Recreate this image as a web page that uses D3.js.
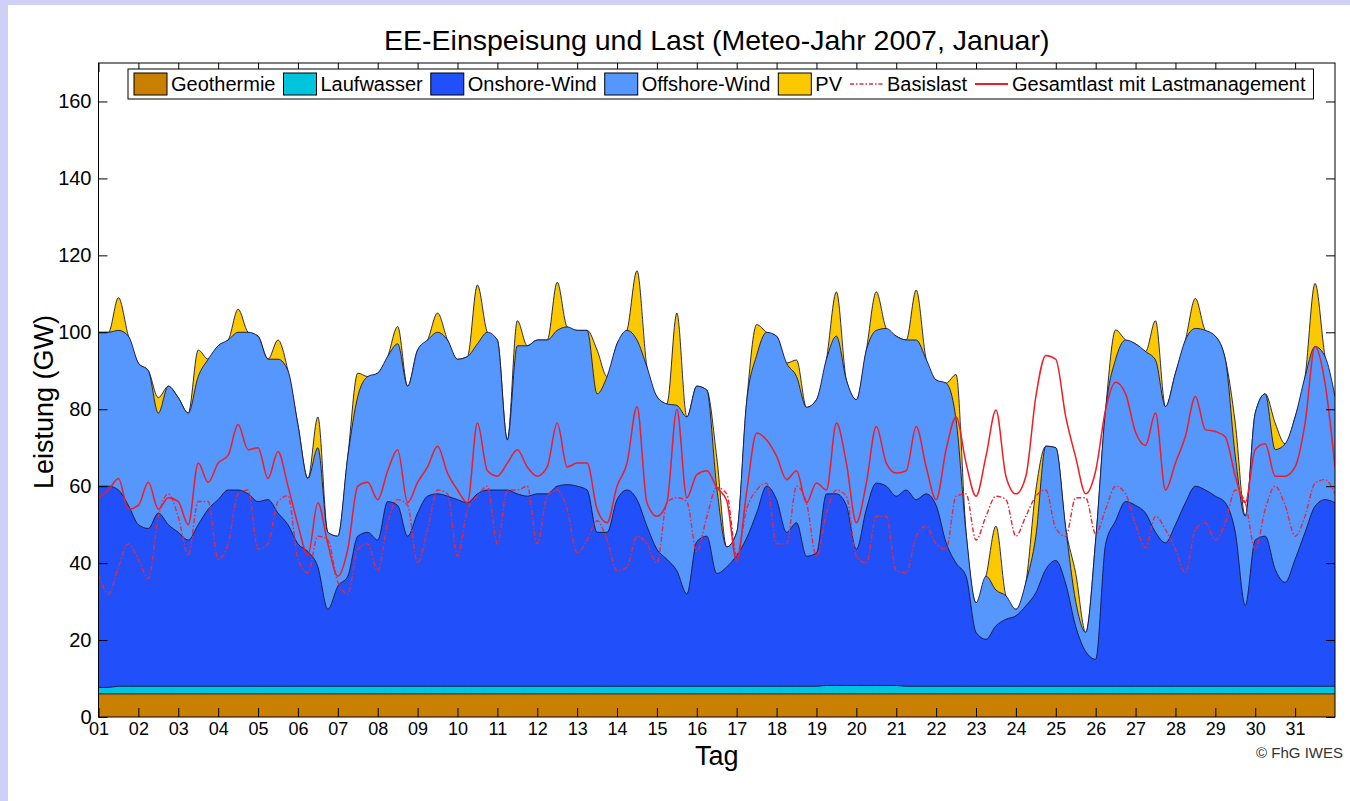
<!DOCTYPE html>
<html>
<head>
<meta charset="utf-8">
<script src="https://cdn.jsdelivr.net/npm/d3@7"></script>
<style>
body { margin: 0; background: #fff; }
svg { display: block; font-family: "Liberation Sans", Arial, sans-serif; }
</style>
</head>
<body>
<svg id="chart" width="1350" height="801"></svg>
<script>
// Feed-in and load, January 2007, values in GW every 6 hours (day 1.00 ... 32.00)

var geothermie = [
  6,6,6,6, 6,6,6,6, 6,6,6,6, 6,6,6,6, 6,6,6,6, 6,6,6,6, 6,6,6,6, 6,6,6,6,
  6,6,6,6, 6,6,6,6, 6,6,6,6, 6,6,6,6, 6,6,6,6, 6,6,6,6, 6,6,6,6, 6,6,6,6,
  6,6,6,6, 6,6,6,6, 6,6,6,6, 6,6,6,6, 6,6,6,6, 6,6,6,6, 6,6,6,6, 6,6,6,6,
  6,6,6,6, 6,6,6,6, 6,6,6,6, 6,6,6,6, 6,6,6,6, 6,6,6,6, 6,6,6,6, 6
];

var laufwasser = [
  1.7,1.7,2,2, 2,2,2,2, 2,2,2,2, 2,2,2,2, 2,2,2,2, 2,2,2,2, 2,2,2,2, 2,2,2,2,
  2,2,2,2, 2,2,2,2, 2,2,2,2, 2,2,2,2, 2,2,2,2, 2,2,2,2, 2,2,2,2, 2,2,2,2,
  2,2,2,2, 2,2,2,2, 2,2.2,2.2,2.2, 2.2,2.2,2.2,2.2, 2.2,2,2,2, 2,2,2,2, 2,2,2,2, 2,2,2,2,
  2,2,2,2, 2,2,2,2, 2,2,2,2, 2,2,2,2, 2,2,2,2, 2,2,2,2, 2,2,2,2, 2
];

var onshore = [
  52.3, 52.3, 51, 47,   42, 41, 45, 42,   40, 38, 42, 46,   48.5, 51, 51, 50,
  48, 48.5, 45, 42,     37, 35, 31, 20,   26, 28.6, 39, 40, 38, 48, 47, 39,
  45, 49.4, 50, 49.4,   48.5, 47.7, 50, 51, 51, 51, 50, 49.4, 50, 50, 52, 52.4,
  52, 51, 40, 40,       48.5, 51, 48.5, 41.6, 35.6, 33, 30, 24, 37.6, 39, 29.3, 31,
  34, 38.5, 45, 52,     48.5, 40, 42.5, 33.8, 34.6, 49.8, 49.8, 46.8, 35.4, 45.8, 52.6, 51.8,
  49.2, 51, 48.5, 50,   47, 37.3, 32, 28.6, 14, 12.2, 15.7, 17.4, 18.3, 20.9, 24.3, 30.4,
  32.7, 26.6, 15.5, 9,  7, 37, 43, 48,    47, 45, 40, 37.3,   42, 47.7, 52, 51,
  49.4, 47.7, 40, 21,   38, 39, 30.4, 27,  33, 40, 46.8, 48.5, 47.7
];

var offshore = [
  40, 40, 41.5, 44,     42, 41, 26, 36,   35, 33, 38.5, 39,   40, 39, 41, 42,
  43, 36.5, 40, 40,     31, 19, 31, 20,   13, 31.2, 36.3, 40.5, 43.4, 37.7, 42, 39,
  42.4, 40.6, 42, 40.6, 36.5, 38, 39, 41, 39, 13, 38.5, 39.1, 40, 40, 40.5, 41,
  40.5, 41.5, 36, 40.5, 40.5, 41.5, 41.5, 41.4, 39.7, 40.4, 43, 46, 40.4, 38, 22.4, 5.2,
  6, 35.5, 41, 40,      42.5, 44, 38, 38.7, 39.9, 35, 41, 32.6, 38.9, 41.4, 39.7, 41,
  41.6, 39, 41.5, 35,   32.6, 41.5, 37.3, 11.4, 7.7, 16.4, 9.3, 6.1, 1.7, 6.1, 14.7, 32,
  29.3, 14.4, 6.5, 5,   31, 35, 42, 42,   42, 42, 44.8, 35.4, 39.4, 42.3, 41, 41.5,
  41.6, 37.3, 19.8, 23.2, 33, 37, 31.1, 36, 37, 40.5, 41.5, 37.2, 27.6
];

var pv = [
  0,0,8.5,0,  0,0,4,0,    0,0,6.9,0,  0,0,6,0,    0,0,5,0,    0,0,8,0,    0,0,6.1,0,  0,0,4.5,0,
  0,0,5,0,    0,0,15.3,0, 0,0,6.5,0,  0,0,12.5,0, 0,0,11.4,0, 0,0,18,0,   0,0,24,0,   0,0,7.8,0,
  0,0,8,0,    0,0,4.3,0,  0,0,11.5,0, 0,0,10,0,   0,0,13,0,   0,0,11.7,0, 0,0,16.6,0, 0,0,12,0,
  0,0,7.3,0,  0,0,7.6,0,  0,0,10.2,0, 0,0,7.8,0,  0,0,8.6,0,  0,0,6.9,0,  0,0,16.4,0, 0
];

var basislast = [
  37, 32, 39, 45,       41, 36, 52, 58,   52, 42, 56, 56,     41, 45, 58, 59,
  43.6, 45, 56, 57.5,   41, 37.5, 47, 46, 35, 32, 43.6, 45,   38, 50.5, 56.5, 55,
  40, 48.7, 59, 58,     41.8, 53.9, 57.4, 60, 45, 59, 59, 60, 45, 57.4, 59, 54,
  42.6, 46, 51, 46,     38, 39, 47, 45,   40, 55.7, 57, 56,   43, 52, 59.7, 58,
  42, 54, 59, 60.8,     45, 45, 60, 55.7, 41.8, 53, 59, 57.4, 41.8, 40, 52.2, 52.2,
  38, 37.5, 47, 49.6,   45, 43.6, 57.4, 58, 46, 52.2, 57.4, 56.5, 47, 52.2, 57.4, 59,
  49, 47, 57, 57,       47.6, 54, 60, 58, 50, 44, 52.2, 48.7, 43.6, 37.5, 48.7, 50.5,
  46, 50.5, 59, 55.7,   43.6, 54, 60, 55, 47, 52.2, 60.8, 61.7, 58
];

var gesamtlast = [
  57, 59, 62, 54,       55, 61, 54, 57,   56, 50, 66, 61,     66, 68, 76, 69.5,
  70, 62, 69, 60,       50, 42, 55.7, 45, 36.6, 43.6, 60, 61, 56.5, 64, 69.5, 55.7,
  61, 65, 70.4, 63.4,   59, 55.7, 76.4, 64, 62.6, 66, 69.5, 65, 62.6, 65, 76.4, 65,
  66, 66, 54, 50.5,     60, 66, 80.7, 55.7, 52.2, 55.7, 80, 57, 63, 64, 59.7, 56.3,
  40.5, 58.5, 73.8, 72, 67.8, 61.7, 64, 55.7, 60.8, 59, 76.4, 66, 50.5, 60.8, 75.5, 66,
  63.4, 64, 75.5, 65,   56.5, 69.5, 78, 66, 57.4, 67.8, 79.8, 62.6, 58, 62.6, 83.3, 94,
  93, 78, 67.5, 58,     64, 80, 87, 84,   74, 70.6, 79, 59,   66, 73, 83.3, 74.7,
  74.2, 72.8, 62.6, 55.7, 69.5, 71, 62.6, 62.6, 65, 76.4, 96.3, 86.8, 65
];

var dayLabels = ["01","02","03","04","05","06","07","08","09","10","11","12","13","14","15","16",
  "17","18","19","20","21","22","23","24","25","26","27","28","29","30","31"];
var yTicks = [0, 20, 40, 60, 80, 100, 120, 140, 160];

var layerNames = ["Geothermie", "Laufwasser", "Onshore-Wind", "Offshore-Wind", "PV"];
var layerColors = ["#c98000", "#00c3dc", "#2150fb", "#5597fd", "#fcc800"];

// Setup
var svgWidth = 1350;
var svgHeight = 801;
var margin = { top: 63, right: 15, bottom: 84, left: 98.5 };
var width = svgWidth - margin.left - margin.right;
var height = svgHeight - margin.top - margin.bottom;

var stepsPerDay = 4;
var time = d3.range(onshore.length).map(i => 1 + i / stepsPerDay);

var svg = d3.select("#chart");

// page frame
svg.append("rect").attr("width", svgWidth).attr("height", svgHeight).attr("fill", "#fff");
svg.append("rect").attr("width", 8).attr("height", svgHeight).attr("fill", "#cfcff7");
svg.append("rect").attr("width", svgWidth).attr("height", 5).attr("fill", "#cfcff7");

var chartGroup = svg.append("g")
  .attr("transform", `translate(${margin.left}, ${margin.top})`);

var xScale = d3.scaleLinear().domain([1, 32]).range([0, width]);
var yScale = d3.scaleLinear().domain([0, 170]).range([height, 0]);

chartGroup.append("clipPath").attr("id", "plotClip")
  .append("rect").attr("width", width).attr("height", height);

var rows = time.map(function(t, i) {
  return { t: t, Geothermie: geothermie[i], Laufwasser: laufwasser[i],
    "Onshore-Wind": onshore[i], "Offshore-Wind": offshore[i], PV: pv[i] };
});

var stacked = d3.stack().keys(layerNames)(rows);

var plot = chartGroup.append("g").attr("clip-path", "url(#plotClip)");

var area = d3.area()
  .x(d => xScale(d.data.t))
  .y0(height)
  .y1(d => yScale(d[1]))
  .curve(d3.curveMonotoneX);

var topLine = d3.line()
  .x(d => xScale(d.data.t))
  .y(d => yScale(d[1]))
  .curve(d3.curveMonotoneX);

// draw top layer first, lower layers cover it
stacked.slice().reverse().forEach(function(layer) {
  plot.append("path")
    .datum(layer)
    .attr("fill", layerColors[layer.index])
    .attr("d", area);
  plot.append("path")
    .datum(layer)
    .attr("fill", "none")
    .attr("stroke", "#14143a")
    .attr("stroke-width", 0.9)
    .attr("d", topLine);
});

var loadLine = d3.line()
  .x((d, i) => xScale(time[i]))
  .y(d => yScale(d))
  .curve(d3.curveMonotoneX);

plot.append("path")
  .datum(basislast)
  .attr("fill", "none")
  .attr("stroke", "#e8283a")
  .attr("stroke-width", 1.4)
  .attr("stroke-dasharray", "5,2,1.5,2")
  .attr("d", loadLine);

plot.append("path")
  .datum(gesamtlast)
  .attr("fill", "none")
  .attr("stroke", "#f01c24")
  .attr("stroke-width", 1.5)
  .attr("d", loadLine);

// Axes
var dayTicks = d3.range(1, 32);

function styleAxis(g, size) {
  g.select(".domain").remove();
  g.selectAll("line").attr("stroke", "#000");
  g.selectAll("text")
    .attr("fill", "#000")
    .style("font-family", "\"Liberation Sans\", Arial, sans-serif")
    .style("font-size", size);
}

chartGroup.append("g")
  .call(d3.axisLeft(yScale).tickValues(yTicks).tickSizeInner(-9).tickSizeOuter(0).tickPadding(7))
  .call(g => styleAxis(g, "20px"));

chartGroup.append("g")
  .attr("transform", `translate(${width}, 0)`)
  .call(d3.axisRight(yScale).tickValues(yTicks).tickSizeInner(-9).tickSizeOuter(0).tickFormat(""))
  .call(g => styleAxis(g, "20px"));

chartGroup.append("g")
  .attr("transform", `translate(0, ${height})`)
  .call(d3.axisBottom(xScale).tickValues(dayTicks).tickSizeInner(-9).tickSizeOuter(0).tickPadding(5)
    .tickFormat((d, i) => dayLabels[i]))
  .call(g => styleAxis(g, "18px"));

chartGroup.append("g")
  .call(d3.axisTop(xScale).tickValues(dayTicks).tickSizeInner(-9).tickSizeOuter(0).tickFormat(""))
  .call(g => styleAxis(g, "18px"));

chartGroup.append("rect")
  .attr("width", width)
  .attr("height", height)
  .attr("fill", "none")
  .attr("stroke", "#000")
  .attr("stroke-width", 1);

// Titles
svg.append("text")
  .attr("x", margin.left + width / 2)
  .attr("y", 50)
  .attr("text-anchor", "middle")
  .style("font-size", "28.5px")
  .text("EE-Einspeisung und Last (Meteo-Jahr 2007, Januar)");

svg.append("text")
  .attr("transform", `translate(53, ${margin.top + height / 2 + 12}) rotate(-90)`)
  .attr("text-anchor", "middle")
  .style("font-size", "27px")
  .text("Leistung (GW)");

svg.append("text")
  .attr("x", margin.left + width / 2)
  .attr("y", 765)
  .attr("text-anchor", "middle")
  .style("font-size", "27px")
  .text("Tag");

svg.append("text")
  .attr("x", 1343)
  .attr("y", 758)
  .attr("text-anchor", "end")
  .attr("fill", "#333")
  .style("font-size", "15px")
  .text("\u00a9 FhG IWES");

// Legend
var legendItems = layerNames.map((n, i) => ({ label: n, kind: "box", color: layerColors[i] }))
  .concat([
    { label: "Basislast", kind: "dash", color: "#e8283a" },
    { label: "Gesamtlast mit Lastmanagement", kind: "line", color: "#f01c24" }
  ]);

var legend = svg.append("g");
var legendBox = legend.append("rect")
  .attr("x", 128).attr("y", 69).attr("height", 30)
  .attr("fill", "#fff").attr("stroke", "#000").attr("stroke-width", 1);

var lx = 134;
legendItems.forEach(function(item) {
  if (item.kind === "box") {
    legend.append("rect")
      .attr("x", lx).attr("y", 73).attr("width", 33).attr("height", 22)
      .attr("fill", item.color).attr("stroke", "#000").attr("stroke-width", 1);
  } else {
    legend.append("line")
      .attr("x1", lx).attr("x2", lx + 33).attr("y1", 84).attr("y2", 84)
      .attr("stroke", item.color)
      .attr("stroke-width", item.kind === "dash" ? 1.4 : 1.8)
      .attr("stroke-dasharray", item.kind === "dash" ? "4,2,1.5,2" : null);
  }
  var t = legend.append("text")
    .attr("x", lx + 37).attr("y", 91)
    .style("font-size", "20px")
    .text(item.label);
  lx = lx + 37 + t.node().getComputedTextLength() + 8;
});
legendBox.attr("width", lx - 128);
</script>
</body>
</html>
